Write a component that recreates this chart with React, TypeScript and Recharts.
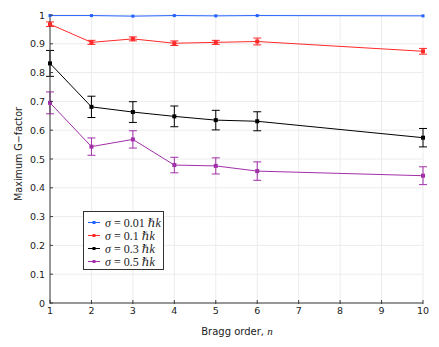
import React from 'react';
import { LineChart, Line, XAxis, YAxis, CartesianGrid, ErrorBar, Legend } from 'recharts';

const ORDERS = [1, 2, 3, 4, 5, 6, 10];
const SIGMA_001 = [0.998, 0.998, 0.996, 0.998, 0.997, 0.998, 0.997];
const SIGMA_01 = [0.968, 0.905, 0.917, 0.902, 0.905, 0.908, 0.874];
const SIGMA_01_ERR = [0.008, 0.007, 0.007, 0.008, 0.007, 0.012, 0.01];
const SIGMA_03 = [0.832, 0.681, 0.663, 0.648, 0.635, 0.631, 0.574];
const SIGMA_03_ERR = [0.045, 0.037, 0.036, 0.036, 0.034, 0.033, 0.032];
const SIGMA_05 = [0.695, 0.543, 0.568, 0.479, 0.476, 0.458, 0.442];
const SIGMA_05_ERR = [0.038, 0.03, 0.03, 0.027, 0.028, 0.032, 0.031];

const X_TICKS = [1, 2, 3, 4, 5, 6, 7, 8, 9, 10];
const Y_TICKS = [0, 0.1, 0.2, 0.3, 0.4, 0.5, 0.6, 0.7, 0.8, 0.9, 1];
const Y_TICK_LABELS = ['0', '0.1', '0.2', '0.3', '0.4', '0.5', '0.6', '0.7', '0.8', '0.9', '1'];

const SERIES = [
  { key: 's001', err: null, label: '0.01', color: '#2462ff' },
  { key: 's01', err: 's01Err', label: '0.1', color: '#ff2a2a' },
  { key: 's03', err: 's03Err', label: '0.3', color: '#000000' },
  { key: 's05', err: 's05Err', label: '0.5', color: '#a12fa8' },
];

const data = ORDERS.map((n, i) => ({
  n,
  s001: SIGMA_001[i],
  s01: SIGMA_01[i],
  s01Err: SIGMA_01_ERR[i],
  s03: SIGMA_03[i],
  s03Err: SIGMA_03_ERR[i],
  s05: SIGMA_05[i],
  s05Err: SIGMA_05_ERR[i],
}));

const SANS = "'DejaVu Sans', Verdana, sans-serif";
const SERIF = "'Liberation Serif', 'DejaVu Serif', serif";
const AXIS_COLOR = '#3a3a3a';

const W = 439;
const H = 347;
const LEFT = 50;
const BOTTOM = 44;

const makeDot = (color: string, size: number) => (props: any) => {
  const { cx, cy, index } = props;
  if (cx == null || cy == null) return <g key={`d-${index}`} />;
  return (
    <rect
      key={`d-${index}`}
      x={cx - size / 2}
      y={cy - size / 2}
      width={size}
      height={size}
      fill={color}
      stroke="none"
    />
  );
};

const YTick = (props: any) => {
  const { x, y, payload } = props;
  const idx = Y_TICKS.indexOf(payload.value);
  const label = idx >= 0 ? Y_TICK_LABELS[idx] : String(payload.value);
  return (
    <g>
      <line x1={LEFT} x2={LEFT + 3} y1={y} y2={y} stroke={AXIS_COLOR} strokeWidth={1} />
      <text x={x} y={y} textAnchor="end" dominantBaseline="central" fontFamily={SANS} fontSize={9.5} fill="#222">
        {label}
      </text>
    </g>
  );
};

const XTick = (props: any) => {
  const { x, y, payload } = props;
  const axisY = H - BOTTOM;
  return (
    <g>
      <line x1={x} x2={x} y1={axisY + 1} y2={axisY - 3} stroke={AXIS_COLOR} strokeWidth={1} />
      <text x={x} y={y} dy="0.8em" textAnchor="middle" fontFamily={SANS} fontSize={9.5} fill="#222">
        {payload.value}
      </text>
    </g>
  );
};

const LegendBox = () => (
  <svg width={82} height={60} style={{ display: 'block' }}>
    <rect x={0.5} y={0.5} width={80} height={58} fill="#fff" stroke="#333" strokeWidth={1} />
    {SERIES.map((s, i) => {
      const cy = 11.5 + 13 * i;
      return (
        <g key={s.key}>
          <line x1={5} x2={17} y1={cy} y2={cy} stroke={s.color} strokeWidth={1} />
          <rect x={9.5} y={cy - 1.5} width={3} height={3} fill={s.color} />
          <text x={22} y={cy + 4} fontFamily={SERIF} fontSize={12} fill="#222">
            <tspan fontStyle="italic">σ</tspan>
            <tspan> = {s.label} </tspan>
            <tspan fontStyle="italic">ℏk</tspan>
          </text>
        </g>
      );
    })}
  </svg>
);

export default function App() {
  return (
    <div style={{ position: 'absolute', left: 0, top: 0, width: W, height: H, background: '#fff' }}>
      <LineChart width={W} height={H} data={data} margin={{ top: 15, right: 16, left: 0, bottom: 0 }}>
        <CartesianGrid stroke="#ececec" strokeWidth={1} vertical horizontal />
        <XAxis
          dataKey="n"
          type="number"
          domain={[1, 10]}
          ticks={X_TICKS}
          interval={0}
          height={BOTTOM}
          tickSize={2}
          tickMargin={1}
          tickLine={false}
          tick={<XTick />}
          axisLine={{ stroke: AXIS_COLOR, strokeWidth: 1 }}
          label={{
            content: () => (
              <text x={237} y={335} textAnchor="middle" fontFamily={SANS} fontSize={10} fill="#222">
                Bragg order,{' '}
                <tspan fontFamily={SERIF} fontStyle="italic" fontSize={11}>n</tspan>
              </text>
            ),
          }}
        />
        <YAxis
          type="number"
          domain={[0, 1]}
          ticks={Y_TICKS}
          interval={0}
          width={LEFT}
          tickSize={4}
          tickMargin={1}
          tickLine={false}
          tick={<YTick />}
          axisLine={{ stroke: AXIS_COLOR, strokeWidth: 1 }}
          label={{
            content: () => (
              <text
                transform="translate(21.5,154) rotate(-90)"
                textAnchor="middle"
                fontFamily={SANS}
                fontSize={9.6}
                fill="#222"
              >
                Maximum G−factor
              </text>
            ),
          }}
        />
        <Legend
          layout="vertical"
          align="center"
          verticalAlign="middle"
          wrapperStyle={{ left: 83, top: 211, width: 82, height: 60 }}
          content={() => <LegendBox />}
        />
        {SERIES.map((s) => (
          <Line
            key={s.key}
            type="linear"
            dataKey={s.key}
            stroke={s.color}
            strokeWidth={1}
            dot={makeDot(s.color, s.key === 's001' ? 3 : 4)}
            activeDot={false}
            isAnimationActive={false}
          >
            {s.err ? (
              <ErrorBar dataKey={s.err} width={4} stroke={s.color} strokeWidth={1} direction="y" />
            ) : null}
          </Line>
        ))}
      </LineChart>
    </div>
  );
}
